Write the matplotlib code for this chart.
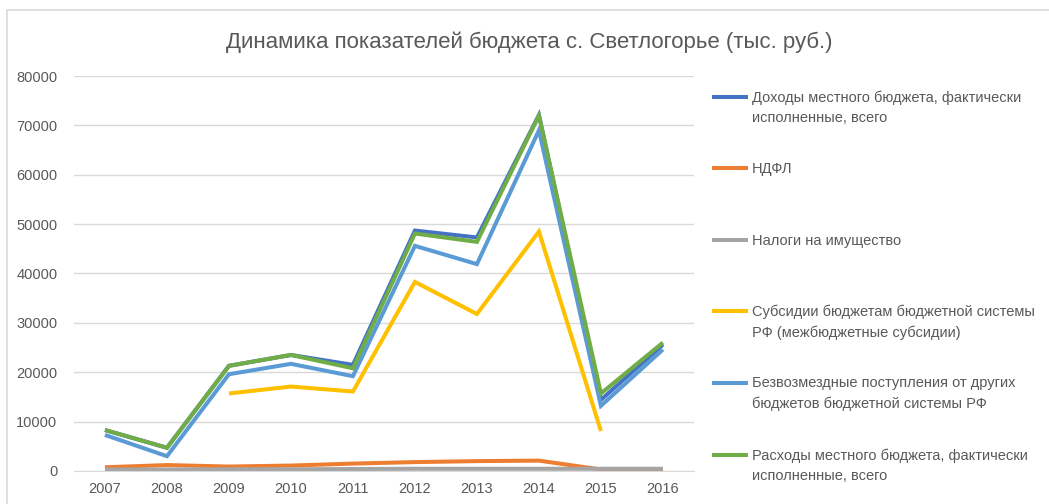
import matplotlib
matplotlib.use("Agg")
import matplotlib.pyplot as plt
import numpy as np
from matplotlib.lines import Line2D
from matplotlib.patches import Rectangle

plt.rcParams['font.family'] = ['Liberation Sans', 'DejaVu Sans']

years = ['2007', '2008', '2009', '2010', '2011', '2012', '2013', '2014', '2015', '2016']

# тыс. руб., значения
dohody = [8300, 4700, 21300, 23500, 21500, 48700, 47300, 72100, 14400, 25600]
ndfl = [750, 1200, 900, 1100, 1500, 1800, 2000, 2100, 300, 100]
imushestvo = [300, 300, 350, 350, 400, 450, 450, 450, 450, 450]
subsidii = [None, None, 15700, 17100, 16100, 38300, 31800, 48500, 8100, None]
bezvozmezd = [7300, 3000, 19600, 21700, 19200, 45600, 41900, 69000, 13200, 24600]
rashody = [8300, 4700, 21300, 23500, 20800, 48100, 46400, 72000, 15700, 26000]

labels = [
    'Доходы местного бюджета, фактически\nисполненные, всего',
    'НДФЛ',
    'Налоги на имущество',
    'Субсидии бюджетам бюджетной системы\nРФ (межбюджетные субсидии)',
    'Безвозмездные поступления от других\nбюджетов бюджетной системы РФ',
    'Расходы местного бюджета, фактически\nисполненные, всего',
]
colors = ['#4472C4', '#ED7D31', '#A5A5A5', '#FFC000', '#5B9BD5', '#70AD47']
series = [dohody, ndfl, imushestvo, subsidii, bezvozmezd, rashody]

text_color = '#595959'

fig = plt.figure(figsize=(10.49, 5.04), dpi=100)
ax = fig.add_axes([0.0705, 0.0655, 0.591, 0.7837])

x = np.arange(len(years))
for vals, col in zip(series, colors):
    y = np.array([np.nan if v is None else v for v in vals], dtype=float)
    ax.plot(x, y, color=col, lw=2.9, solid_capstyle='butt', solid_joinstyle='miter')

ax.set_xlim(-0.5, len(years) - 0.5)
ax.set_ylim(0, 80000)
ax.set_yticks(np.arange(0, 80001, 10000))
ax.set_xticks(x)
ax.set_xticklabels(years)
ax.grid(axis='y', color='#D9D9D9', lw=1)
ax.set_axisbelow(True)
for s in ['top', 'right', 'left']:
    ax.spines[s].set_visible(False)
ax.spines['bottom'].set_color('#D9D9D9')
ax.tick_params(axis='both', length=0, labelsize=10.5, colors=text_color)
ax.tick_params(axis='y', pad=12)
ax.tick_params(axis='x', pad=8)

fig.text(0.505, 0.917, 'Динамика показателей бюджета с. Светлогорье (тыс. руб.)',
         ha='center', va='center', fontsize=16, color=text_color)

# легенда справа
y_pos = [97, 168, 240, 311, 383, 455]
for lab, col, yp in zip(labels, colors, y_pos):
    yf = 1 - yp / 504
    fig.add_artist(Line2D([712 / 1049, 748 / 1049], [yf, yf], color=col, lw=2.9,
                          solid_capstyle='butt', transform=fig.transFigure))
    fig.text(752 / 1049, yf + 6.5 / 504, lab, ha='left', va='top', fontsize=10.5,
             color=text_color, linespacing=1.55)

# рамка области диаграммы (правый и нижний край за пределами кадра)
fig.add_artist(Rectangle((7 / 1049, -0.05), 1.1, 1.05 - 10 / 504, fill=False,
                         ec='#D9D9D9', lw=1.2, transform=fig.transFigure))

fig.savefig('out.png', dpi=100)
